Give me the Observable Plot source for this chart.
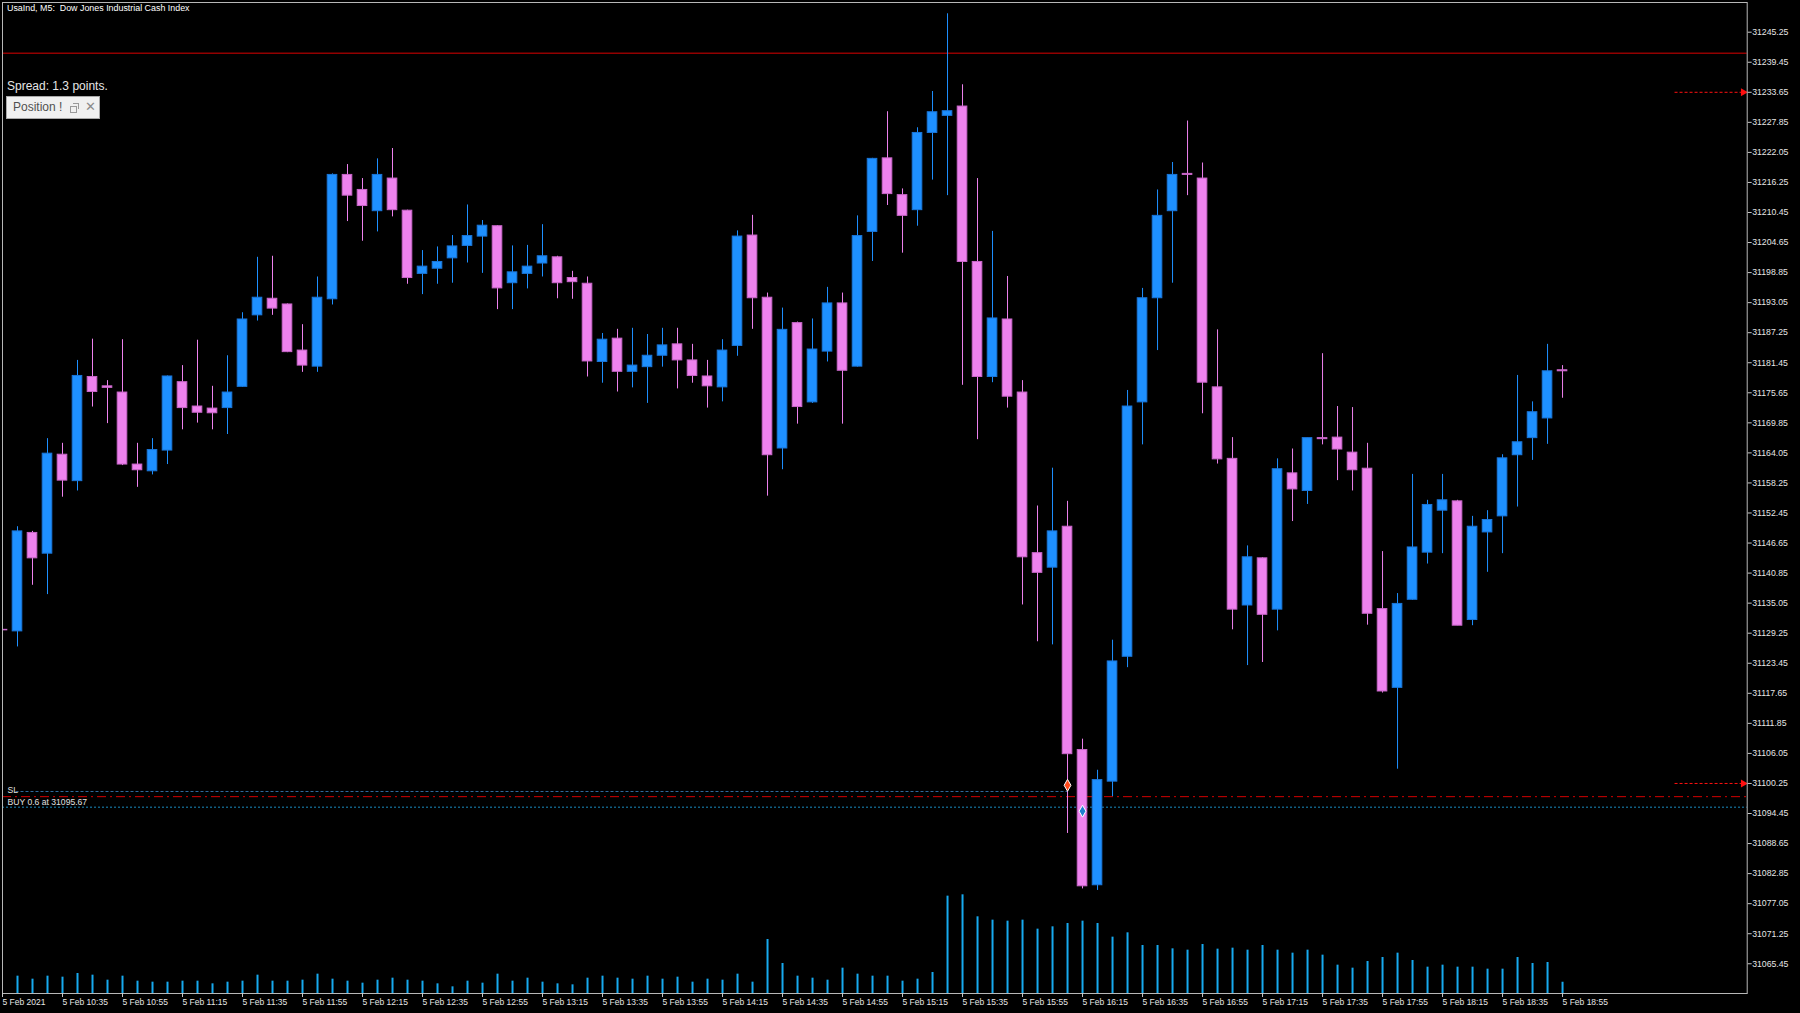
<!DOCTYPE html>
<html>
<head>
<meta charset="utf-8">
<script src="https://cdn.jsdelivr.net/npm/d3@7"></script>
<script src="https://cdn.jsdelivr.net/npm/@observablehq/plot@0.6"></script>
<style>
  html, body { margin: 0; padding: 0; background: #000; }
  #wrap { position: relative; width: 1800px; height: 1013px; overflow: hidden; background: #000; }
  #chart { position: absolute; left: 0; top: 0; }
  .ov { position: absolute; font-family: "Liberation Sans", Arial, sans-serif; white-space: nowrap; }
  #title { left: 7px; top: 3px; font-size: 8.9px; color: #ffffff; }
  #spread { left: 7px; top: 79px; font-size: 12px; color: #e6e6e6; }
  #pos { left: 6px; top: 96px; width: 92px; height: 21px; background: #f0f0f0; border: 1px solid #a8a8a8; }
  #pos .t { position: absolute; left: 6px; top: 3px; font-size: 12px; color: #505050; }
  #pos .r1 { position: absolute; left: 63px; top: 9px; width: 5px; height: 5px; border: 1px solid #9a9a9a; }
  #pos .r2 { position: absolute; left: 66px; top: 6px; width: 5px; height: 5px; border: 1px solid #9a9a9a; border-left: none; border-bottom: none; }
  #pos .x { position: absolute; left: 78px; top: 2px; font-size: 13px; color: #8a8a8a; font-family: "DejaVu Sans", sans-serif; }
</style>
</head>
<body>
<div id="wrap">
  <div id="chart"></div>
  <div class="ov" id="title">UsaInd, M5:&nbsp; Dow Jones Industrial Cash Index</div>
  <div class="ov" id="spread">Spread: 1.3 points.</div>
  <div class="ov" id="pos"><span class="t">Position !</span><span class="r1"></span><span class="r2"></span><span class="x">✕</span></div>
</div>
<script>
// ---- data (5-minute bars, 5 Feb 2021, 10:15 .. 18:55) ----
const barOpen = [
31129.9,31129.6,31148.6,31144.6,31163.7,31158.6,31178.7,31176.9,31175.7,31161.8,
31160.5,31164.5,31177.7,31173.0,31172.6,31172.7,31176.8,31190.6,31193.8,31192.7,
31183.8,31180.7,31193.7,31217.7,31214.8,31210.7,31217.0,31210.8,31198.6,31199.6,
31201.6,31204.0,31205.8,31207.8,31196.8,31198.6,31200.6,31201.8,31197.8,31196.7,
31181.6,31186.1,31179.7,31180.6,31182.8,31185.0,31181.9,31178.8,31176.7,31184.7,
31206.0,31194.0,31164.9,31189.1,31173.8,31183.6,31192.9,31180.7,31206.7,31220.9,
31213.8,31210.9,31225.8,31229.1,31230.9,31200.9,31178.7,31189.8,31175.7,31144.7,
31141.9,31149.8,31106.7,31080.6,31100.6,31124.7,31173.8,31193.9,31210.7,31217.9,
31217.0,31176.7,31162.9,31134.6,31143.7,31133.8,31160.1,31156.7,31166.9,31167.0,
31164.1,31161.0,31133.9,31118.7,31135.7,31144.8,31152.9,31154.7,31131.8,31148.7,
31151.8,31163.6,31166.9,31170.7,31180.0];
const barHigh = [
31130.0,31149.8,31148.9,31166.8,31165.9,31181.9,31186.0,31178.0,31185.9,31165.9,
31166.8,31178.9,31180.9,31185.8,31176.9,31182.8,31191.1,31201.8,31202.0,31192.8,
31188.8,31198.0,31217.9,31219.7,31217.0,31220.8,31222.8,31210.9,31203.1,31203.8,
31206.0,31211.9,31208.9,31207.9,31204.0,31204.1,31208.1,31202.0,31199.1,31198.0,
31187.1,31187.9,31188.1,31186.9,31188.1,31188.1,31185.0,31181.9,31185.9,31206.9,
31209.9,31194.9,31192.0,31189.3,31189.9,31196.0,31194.9,31209.8,31220.9,31229.9,
31215.0,31226.8,31233.8,31248.8,31235.1,31217.0,31206.8,31198.1,31178.0,31153.8,
31161.1,31154.7,31108.8,31102.8,31127.9,31176.1,31195.8,31214.8,31220.1,31228.1,
31220.0,31187.8,31167.0,31146.1,31143.8,31162.9,31164.8,31166.9,31183.2,31173.0,
31172.8,31165.9,31145.0,31136.9,31159.9,31154.9,31159.9,31154.9,31151.8,31152.9,
31163.7,31179.0,31173.9,31185.0,31180.9];
const barLow = [
31129.7,31126.6,31138.5,31136.7,31155.5,31156.7,31172.9,31169.7,31161.6,31157.4,
31159.8,31161.8,31168.5,31169.8,31168.5,31167.6,31176.7,31189.5,31190.6,31183.4,
31179.6,31179.6,31192.6,31208.7,31204.9,31206.7,31209.6,31196.6,31194.6,31196.6,
31196.8,31200.7,31198.7,31191.7,31191.7,31195.7,31198.0,31193.8,31193.7,31178.7,
31177.5,31175.8,31176.6,31173.6,31180.6,31176.4,31177.5,31172.7,31173.9,31182.7,
31187.9,31155.7,31160.8,31169.6,31173.6,31181.6,31169.6,31180.6,31201.0,31211.8,
31202.6,31207.8,31216.7,31213.7,31177.1,31166.6,31177.6,31172.7,31134.7,31127.6,
31127.0,31090.6,31079.9,31079.6,31097.7,31122.6,31165.6,31183.8,31196.8,31213.7,
31171.6,31161.9,31129.9,31123.0,31123.6,31129.7,31150.8,31154.1,31165.6,31158.7,
31156.7,31130.8,31117.7,31103.0,31135.6,31142.6,31144.6,31130.7,31130.7,31141.0,
31144.6,31153.6,31162.6,31165.7,31174.6];
const barClose = [
31129.8,31148.9,31143.7,31163.9,31158.7,31178.9,31175.8,31176.6,31161.8,31160.7,
31164.6,31178.8,31172.7,31171.8,31171.7,31175.7,31189.8,31194.0,31191.9,31183.5,
31180.9,31194.0,31217.7,31213.7,31211.7,31217.7,31210.9,31197.8,31200.0,31200.9,
31203.9,31205.9,31207.9,31195.8,31198.9,31200.0,31202.0,31196.8,31197.0,31181.7,
31185.9,31179.7,31180.9,31182.8,31184.8,31181.9,31178.9,31176.9,31183.8,31205.8,
31193.9,31163.6,31187.8,31172.9,31184.0,31192.9,31179.9,31205.9,31220.8,31214.0,
31209.8,31225.8,31229.8,31230.0,31200.9,31178.7,31190.0,31174.9,31143.9,31140.9,
31148.9,31105.9,31080.4,31100.9,31123.8,31173.0,31193.9,31209.8,31217.7,31217.7,
31177.6,31162.8,31133.8,31143.9,31132.8,31160.9,31157.0,31166.9,31166.7,31164.7,
31160.7,31133.0,31118.0,31134.9,31145.8,31154.0,31154.9,31130.7,31149.8,31151.1,
31163.0,31166.1,31171.9,31179.8,31179.8];
const tickVolume = [
null,52,43,52,49,60,55,40,52,37,
34,34,37,37,29,34,37,55,37,37,
40,58,43,37,31,40,46,40,37,29,
20,37,31,58,37,46,34,29,26,46,
52,46,43,52,43,49,34,43,40,58,
34,162,90,52,46,40,76,58,52,52,
37,43,63,292,296,230,220,217,220,193,
200,210,217,210,169,182,144,144,134,130,
147,133,136,130,144,130,121,130,115,85,
76,96,108,121,99,79,85,79,79,73,
73,108,90,93,34];

const priceTicks = [31245.25,31239.45,31233.65,31227.85,31222.05,31216.25,31210.45,31204.65,
31198.85,31193.05,31187.25,31181.45,31175.65,31169.85,31164.05,31158.25,31152.45,31146.65,
31140.85,31135.05,31129.25,31123.45,31117.65,31111.85,31106.05,31100.25,31094.45,31088.65,
31082.85,31077.05,31071.25,31065.45];
const timeTickBars = [0,4,8,12,16,20,24,28,32,36,40,44,48,52,56,60,64,68,72,76,80,84,88,92,96,100,104];
const timeTickLabels = ["5 Feb 2021","5 Feb 10:35","5 Feb 10:55","5 Feb 11:15","5 Feb 11:35","5 Feb 11:55",
"5 Feb 12:15","5 Feb 12:35","5 Feb 12:55","5 Feb 13:15","5 Feb 13:35","5 Feb 13:55","5 Feb 14:15",
"5 Feb 14:35","5 Feb 14:55","5 Feb 15:15","5 Feb 15:35","5 Feb 15:55","5 Feb 16:15","5 Feb 16:35",
"5 Feb 16:55","5 Feb 17:15","5 Feb 17:35","5 Feb 17:55","5 Feb 18:15","5 Feb 18:35","5 Feb 18:55"];

// trade / level annotations
const tpLevel = 31241.2;
const slLevel = 31097.7;
const orderLevel = 31098.7;
const buyPrice = 31095.67;
const arrowLevels = [31233.65, 31100.25];
const tradeMarks = [
  {bar: 71, price: 31099.9, kind: "exit"},
  {bar: 72, price: 31094.9, kind: "entry"}
];

// ---- chart ----
const BULL = "#1e90ff", BULL_EDGE = "#1b76d8";
const BEAR = "#ee82ee", BEAR_EDGE = "#c866c8";
const Y_MIN = 31059.71, Y_MAX = 31250.98;
const X_MAX = 116.31;
const BODY_HALF = 0.32;
const VOL_UNIT = 15.54; // volume units per price point

const bars = barOpen.map((o, i) => ({
  i, o, h: barHigh[i], l: barLow[i], c: barClose[i], v: tickVolume[i]
}));
const up = d => d.c >= d.o;
const labelOf = new Map(timeTickBars.map((b, k) => [b, timeTickLabels[k]]));

const chart = Plot.plot({
  width: 1800,
  height: 1013,
  marginLeft: 2,
  marginRight: 53.3,
  marginTop: 2,
  marginBottom: 20,
  style: {background: "#000", color: "#e6e6e6", fontFamily: "Liberation Sans, Arial, sans-serif"},
  x: {type: "linear", domain: [0, X_MAX], label: null},
  y: {type: "linear", domain: [Y_MIN, Y_MAX], label: null},
  color: {type: "identity"},
  marks: [
    // volumes
    Plot.ruleX(bars.filter(d => d.v != null), {
      x: "i", y1: () => Y_MIN, y2: d => Y_MIN + d.v / VOL_UNIT,
      stroke: "#17aaef", strokeWidth: 2, clip: true
    }),
    // level lines
    Plot.ruleY([tpLevel], {y: d => d, stroke: "#920000", strokeWidth: 1.5}),
    Plot.ruleY([slLevel], {y: d => d, stroke: "#d40000", strokeWidth: 1, strokeDasharray: "9,4,2,4"}),
    Plot.ruleY([orderLevel], {y: d => d, x1: () => 0.9, x2: () => 71, stroke: "#2f6c9c", strokeWidth: 1, strokeDasharray: "3,2"}),
    Plot.ruleY([buyPrice], {y: d => d, stroke: "#1a8cc0", strokeWidth: 1, strokeDasharray: "2,2"}),
    Plot.ruleY(arrowLevels, {y: d => d, x1: () => 111.5, x2: () => 116.0, stroke: "#ff1010", strokeWidth: 1, strokeDasharray: "3,2"}),
    Plot.dot(arrowLevels, {x: () => 116.05, y: d => d, symbol: "triangle", rotate: 90, r: 3, fill: "#ff1010", stroke: "none"}),
    // wicks
    Plot.ruleX(bars, {x: "i", y1: "l", y2: "h", stroke: d => up(d) ? BULL : BEAR, strokeWidth: 1, clip: true}),
    // bodies
    Plot.rect(bars, {
      x1: d => d.i - BODY_HALF, x2: d => d.i + BODY_HALF,
      y1: d => Math.min(d.o, d.c), y2: d => Math.max(d.o, d.c),
      fill: d => up(d) ? BULL : BEAR, stroke: d => up(d) ? BULL_EDGE : BEAR_EDGE,
      strokeWidth: 1, clip: true
    }),
    // trade markers
    Plot.dot(tradeMarks, {
      x: "bar", y: "price", symbol: "diamond", r: 3.6,
      fill: d => d.kind === "exit" ? "#ff4a1a" : "#1e7fd0", stroke: "#ffffff", strokeWidth: 1
    }),
    // level labels
    Plot.text(["SL"], {x: () => 0, y: () => orderLevel, dx: 5, dy: -1, textAnchor: "start", fill: "#e0e0e0", fontSize: 8.6}),
    Plot.text(["BUY 0.6 at " + buyPrice.toFixed(2)], {x: () => 0, y: () => buyPrice, dx: 5, dy: -5, textAnchor: "start", fill: "#e0e0e0", fontSize: 8.6}),
    // frame and axes
    Plot.frame({stroke: "#b8b8b8", strokeWidth: 1}),
    Plot.axisY({
      anchor: "right", ticks: priceTicks, tickFormat: d => d.toFixed(2),
      tickSize: 4, tickPadding: 1, fontSize: 8.7, fill: "#e6e6e6", stroke: "#c8c8c8", label: null
    }),
    Plot.axisX({
      anchor: "bottom", ticks: timeTickBars, tickFormat: d => labelOf.get(d),
      tickSize: 4, tickPadding: 1, fontSize: 8.5, textAnchor: "start", dx: 0,
      fill: "#e6e6e6", stroke: "#c8c8c8", label: null
    })
  ]
});
document.getElementById("chart").appendChild(chart);
</script>
</body>
</html>
